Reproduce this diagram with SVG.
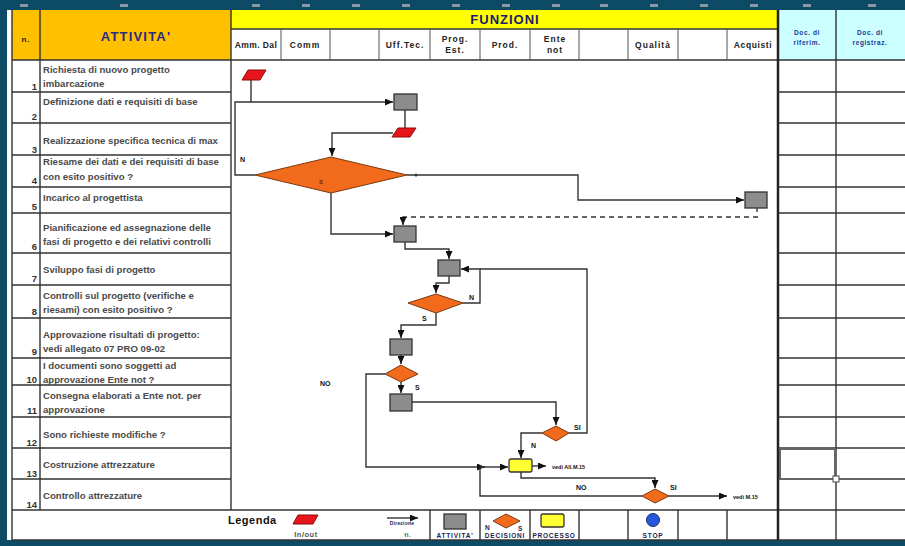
<svg xmlns="http://www.w3.org/2000/svg" width="905" height="546" viewBox="0 0 905 546">
<defs>
<marker id="ah" markerUnits="userSpaceOnUse" markerWidth="8" markerHeight="7" refX="8" refY="3.5" orient="auto"><path d="M0,0 L8,3.5 L0,7 z" fill="#111"/></marker>
<style>
.grid{stroke:#333;stroke-width:1.4;fill:none}
.thick{stroke:#222;stroke-width:2.5;fill:none}
.thin{stroke:#555;stroke-width:1;fill:none}
.act{font-family:"Liberation Sans",Arial,sans-serif;font-size:9.6px;font-weight:bold;fill:#4a4a4a}
.num{font-family:"Liberation Sans",Arial,sans-serif;font-size:9.5px;font-weight:bold;fill:#333;text-anchor:end}
.hd{font-family:"Liberation Sans",Arial,sans-serif;font-size:8.5px;font-weight:bold;fill:#222;text-anchor:middle;letter-spacing:1px}
.doc{font-family:"Liberation Sans",Arial,sans-serif;font-size:6.5px;font-weight:bold;fill:#1a3a9a;text-anchor:middle;letter-spacing:0.6px}
.lbl{font-family:"Liberation Sans",Arial,sans-serif;font-size:7px;font-weight:bold;fill:#111}
.lg{font-family:"Liberation Sans",Arial,sans-serif;font-size:6.5px;font-weight:bold;fill:#1d1d50;text-anchor:middle;letter-spacing:0.8px}
.box{fill:#8c8c8c;stroke:#333;stroke-width:1.3}
.dia{fill:#F26A1B;stroke:#7a3a10;stroke-width:1}
.io{fill:#E8141B;stroke:#8a0a0a;stroke-width:1}
.conn{stroke:#333;stroke-width:1.4;fill:none}
</style>
</defs>
<!-- frame -->
<rect x="0" y="0" width="905" height="546" fill="#0d4a66"/>
<rect x="7" y="10" width="898" height="530" fill="#ffffff"/>
<g fill="#8a9aa4">
<rect x="20" y="4" width="8" height="3"/><rect x="120" y="4" width="8" height="3"/><rect x="252" y="4" width="8" height="3"/><rect x="302" y="4" width="8" height="3"/><rect x="352" y="4" width="8" height="3"/><rect x="402" y="4" width="8" height="3"/><rect x="452" y="4" width="8" height="3"/><rect x="502" y="4" width="8" height="3"/><rect x="552" y="4" width="8" height="3"/><rect x="600" y="4" width="8" height="3"/><rect x="650" y="4" width="8" height="3"/><rect x="700" y="4" width="8" height="3"/><rect x="750" y="4" width="8" height="3"/><rect x="803" y="4" width="8" height="3"/><rect x="868" y="4" width="8" height="3"/>
</g>
<!-- header -->
<g id="header">
<rect x="12" y="10" width="219" height="50" fill="#FFC000"/>
<rect x="231" y="10" width="547" height="19" fill="#FFFF00"/>
<rect x="778" y="10" width="127" height="50" fill="#CCFFFF"/>
<text x="26" y="42" class="hd" style="font-size:8px">n.</text>
<text x="136" y="41" font-family="Liberation Sans,Arial,sans-serif" font-size="13" font-weight="bold" fill="#2a2a80" text-anchor="middle" letter-spacing="1.2">ATTIVITA'</text>
<text x="505" y="24" font-family="Liberation Sans,Arial,sans-serif" font-size="13" font-weight="bold" fill="#1a1a6e" text-anchor="middle" letter-spacing="1">FUNZIONI</text>
<text x="256" y="48" class="hd" style="letter-spacing:0.4px">Amm. Dal</text>
<text x="305" y="48" class="hd">Comm</text>
<text x="405" y="48" class="hd">Uff.Tec.</text>
<text x="455" y="42" class="hd">Prog.</text><text x="455" y="53" class="hd">Est.</text>
<text x="505" y="48" class="hd">Prod.</text>
<text x="555" y="42" class="hd">Ente</text><text x="555" y="53" class="hd">not</text>
<text x="653" y="48" class="hd">Qualità</text>
<text x="753" y="48" class="hd" style="letter-spacing:0.6px">Acquisti</text>
<text x="807" y="35" class="doc">Doc. di</text><text x="807" y="45" class="doc">riferim.</text>
<text x="870" y="35" class="doc">Doc. di</text><text x="870" y="45" class="doc">registraz.</text>
</g>
<!-- grid -->
<g id="grid">
<path class="grid" d="M12,10 V540 M40,10 V510 M231,10 V510 M12,60 H905 M231,29 H778 M836,10 V540 M12,510 H905 M12,540 H905"/>
<path class="thin" d="M281,29 V60 M330,29 V60 M379,29 V60 M430,29 V60 M480,29 V60 M530,29 V60 M579,29 V60 M628,29 V60 M678,29 V60 M727,29 V60"/>
<path class="grid" d="M430,510 V540 M480,510 V540 M530,510 V540 M579,510 V540 M628,510 V540 M678,510 V540 M727,510 V540"/>
<path class="thick" d="M778,10 V540"/>
<path class="grid" d="M12,92 H231 M12,123 H231 M12,155 H231 M12,187 H231 M12,213 H231 M12,253 H231 M12,285 H231 M12,318 H231 M12,358 H231 M12,385 H231 M12,417 H231 M12,448 H231 M12,479 H231"/>
<path class="grid" d="M778,92 H905 M778,123 H905 M778,155 H905 M778,187 H905 M778,213 H905 M778,253 H905 M778,285 H905 M778,318 H905 M778,358 H905 M778,385 H905 M778,417 H905 M778,448 H905 M778,479 H905"/>
<rect x="780" y="449" width="55" height="30" fill="none" stroke="#666" stroke-width="2"/>
<rect x="833" y="476" width="6" height="6" fill="#fff" stroke="#444" stroke-width="1"/>
</g>
<!-- activities -->
<g id="activities">
<text x="43" y="73" class="act">Richiesta di nuovo progetto</text><text x="43" y="87" class="act">imbarcazione</text><text x="37" y="90" class="num">1</text>
<text x="43" y="105" class="act">Definizione dati e requisiti di base</text><text x="37" y="120" class="num">2</text>
<text x="43" y="144" class="act">Realizzazione specifica tecnica di max</text><text x="37" y="153" class="num">3</text>
<text x="43" y="165" class="act">Riesame dei dati e dei requisiti di base</text><text x="43" y="180" class="act">con esito positivo ?</text><text x="37" y="184" class="num">4</text>
<text x="43" y="201" class="act">Incarico al progettista</text><text x="37" y="210" class="num">5</text>
<text x="43" y="231" class="act">Pianificazione ed assegnazione delle</text><text x="43" y="245" class="act">fasi di progetto e dei relativi controlli</text><text x="37" y="250" class="num">6</text>
<text x="43" y="273" class="act">Sviluppo fasi di progetto</text><text x="37" y="282" class="num">7</text>
<text x="43" y="299" class="act">Controlli sul progetto (verifiche e</text><text x="43" y="313" class="act">riesami) con esito positivo ?</text><text x="37" y="315" class="num">8</text>
<text x="43" y="338" class="act">Approvazione risultati di progetto:</text><text x="43" y="352" class="act">vedi allegato 07 PRO 09-02</text><text x="37" y="355" class="num">9</text>
<text x="43" y="369" class="act">I documenti sono soggetti ad</text><text x="43" y="383" class="act">approvazione Ente not ?</text><text x="37" y="383" class="num">10</text>
<text x="43" y="399" class="act">Consegna elaborati a Ente not. per</text><text x="43" y="413" class="act">approvazione</text><text x="37" y="414" class="num">11</text>
<text x="43" y="438" class="act">Sono richieste modifiche ?</text><text x="37" y="446" class="num">12</text>
<text x="43" y="468" class="act">Costruzione attrezzature</text><text x="37" y="477" class="num">13</text>
<text x="43" y="499" class="act">Controllo attrezzature</text><text x="37" y="508" class="num">14</text>
</g>
<!-- connectors -->
<g id="connectors">
<path class="conn" d="M251,80 V102"/>
<path class="conn" d="M255,175 H235 V102 H393" marker-end="url(#ah)"/>
<path class="conn" d="M405,110 V128"/>
<path class="conn" d="M393,133 H332 V156" marker-end="url(#ah)"/>
<path class="conn" d="M407,175 H578 V200 H744" marker-end="url(#ah)"/>
<circle cx="416" cy="175" r="1.5" fill="#333"/>
<path class="conn" d="M757,208 V212"/>
<path class="conn" d="M758,217 H403 V225" stroke-dasharray="5,4" marker-end="url(#ah)"/>
<path class="conn" d="M331,193 V234 H393" marker-end="url(#ah)"/>
<path class="conn" d="M405,242 V249 H449 V259" marker-end="url(#ah)"/>
<path class="conn" d="M449,276 V283 H436 V293" marker-end="url(#ah)"/>
<path class="conn" d="M463,303 H480 V269 H461" marker-end="url(#ah)"/>
<path class="conn" d="M569,433 H587 V269 H480"/>
<path class="conn" d="M436,313 V325 H401 V338" marker-end="url(#ah)"/>
<path class="conn" d="M401,355 V364" marker-end="url(#ah)"/>
<path class="conn" d="M401,382 V393" marker-end="url(#ah)"/>
<path class="conn" d="M385,374 H366 V467 H485" marker-end="url(#ah)"/>
<path class="conn" d="M480,467 H508" marker-end="url(#ah)"/>
<path class="conn" d="M412,402 H556 V425" marker-end="url(#ah)"/>
<path class="conn" d="M542,433 H521 V458" marker-end="url(#ah)"/>
<path class="conn" d="M532,466 H546" marker-end="url(#ah)"/>
<path class="conn" d="M521,472 V478 H655 V488" marker-end="url(#ah)"/>
<path class="conn" d="M669,496 H727" marker-end="url(#ah)"/>
<path class="conn" d="M642,496 H480 V467"/>
</g>
<!-- nodes -->
<g id="n1"><polygon class="io" points="248,70 266,70 260,80 242,80"/></g>
<g id="n2"><rect class="box" x="394" y="94" width="23" height="16"/></g>
<g id="n3"><polygon class="io" points="398,128 416,128 410,137 392,137"/></g>
<g id="n4"><polygon class="dia" points="255,175 331,157 407,175 331,193"/><text x="319" y="184" class="lbl" style="font-size:6px;fill:#7a1a00">S</text><text x="240" y="162" class="lbl">N</text></g>
<g id="n5"><rect class="box" x="745" y="192" width="22" height="16"/></g>
<g id="n6"><rect class="box" x="394" y="226" width="22" height="16"/></g>
<g id="n7"><rect class="box" x="438" y="260" width="22" height="16"/></g>
<g id="n8"><polygon class="dia" points="408,303 436,294 463,303 436,313"/><text x="469" y="300" class="lbl">N</text><text x="422" y="321" class="lbl">S</text></g>
<g id="n9"><rect class="box" x="390" y="339" width="22" height="16"/></g>
<g id="n10"><polygon class="dia" points="385,374 401,365 418,374 401,382"/><text x="415" y="390" class="lbl">S</text><text x="320" y="386" class="lbl">NO</text></g>
<g id="n11"><rect class="box" x="390" y="394" width="22" height="17"/></g>
<g id="n12"><polygon class="dia" points="542,433 556,426 569,433 556,441"/><text x="574" y="430" class="lbl">SI</text><text x="531" y="448" class="lbl">N</text></g>
<g id="n13"><rect x="509" y="459" width="23" height="13" rx="2" fill="#FFFF33" stroke="#333" stroke-width="1.3"/><text x="552" y="469" class="lbl" style="font-size:5.5px">vedi All.M.15</text></g>
<g id="n14"><polygon class="dia" points="642,496 655,489 669,496 655,503"/><text x="670" y="490" class="lbl">SI</text><text x="576" y="490" class="lbl">NO</text><text x="733" y="499" class="lbl" style="font-size:5.5px">vedi M.15</text></g>
<!-- legend -->
<g id="legend">
<text x="228" y="524" font-family="Liberation Sans,Arial,sans-serif" font-size="11" font-weight="bold" fill="#111" letter-spacing="0.5">Legenda</text>
<polygon class="io" points="298,515 318,515 313,524 293,524"/>
<text x="306" y="537" class="lg" style="font-size:7.5px;fill:#555;letter-spacing:0.5px">In/out</text>
<path class="conn" d="M387,518 H418" marker-end="url(#ah)"/>
<text x="402" y="525" class="lg" style="font-size:5px;letter-spacing:0.2px">Direzione</text>
<text x="408" y="537" class="lg" style="font-size:5px">fl.</text>
<rect class="box" x="444" y="514" width="22" height="15"/>
<text x="455" y="538" class="lg">ATTIVITA'</text>
<polygon class="dia" points="493,521 506,514 520,521 506,528"/>
<text x="485" y="530" class="lg" style="text-anchor:start">N</text><text x="518" y="531" class="lg" style="text-anchor:start">S</text>
<text x="505" y="538" class="lg">DECISIONI</text>
<rect x="541" y="514" width="23" height="13" rx="2" fill="#FFFF33" stroke="#333" stroke-width="1.3"/>
<text x="554" y="538" class="lg">PROCESSO</text>
<circle cx="653" cy="520" r="6.5" fill="#2a55dd" stroke="#1a2a6a" stroke-width="1"/>
<text x="653" y="538" class="lg">STOP</text>
</g>
</svg>
